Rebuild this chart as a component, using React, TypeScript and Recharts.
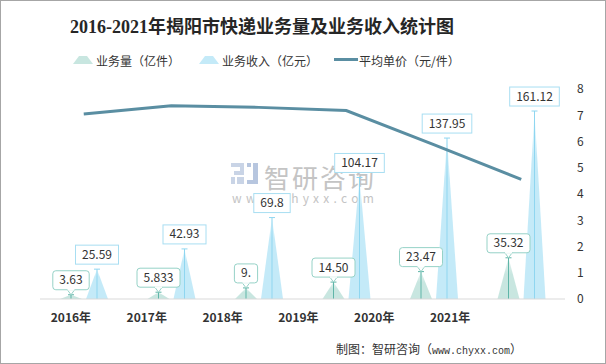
import React from 'react';
import { ComposedChart, Bar, Line, XAxis, YAxis, LabelList } from 'recharts';

const years = ['2016年', '2017年', '2018年', '2019年', '2020年', '2021年'];
const volume = [3.63, 5.833, 9.5, 14.5, 23.47, 35.32];
const volumeLabels = ['3.63', '5.833', '9.', '14.50', '23.47', '35.32'];
const revenue = [25.59, 42.93, 69.8, 104.17, 137.95, 161.12];
const revenueLabels = ['25.59', '42.93', '69.8', '104.17', '137.95', '161.12'];
const price = [7.05, 7.36, 7.3, 7.18, 5.88, 4.56];
const rightTicks = [0, 1, 2, 3, 4, 5, 6, 7, 8];

const data = years.map((y, i) => ({
  year: y,
  volume: volume[i],
  revenue: revenue[i],
  price: price[i],
  vLabel: volumeLabels[i],
  rLabel: revenueLabels[i],
}));

const FONT = '"Microsoft YaHei", "Noto Sans CJK SC", "Noto Sans", sans-serif';

const makeSpike = (fillId: string, lineColor: string) => (props: any) => {
  const { x, y, width, height } = props;
  if (height == null || height <= 0) return null;
  const cx = x + width / 2;
  const base = y + height;
  return (
    <g>
      <polygon points={`${x},${base} ${cx},${y} ${x + width},${base}`} fill={`url(#${fillId})`} />
      <line x1={cx} y1={y} x2={cx} y2={base} stroke={lineColor} strokeWidth={1} />
      <line x1={cx - 3} y1={y} x2={cx + 3} y2={y} stroke={lineColor} strokeWidth={1} />
    </g>
  );
};

const makeLabel = (labels: string[], border: string, rounded: boolean, pointer: boolean) => (props: any) => {
  const { x, y, width, index } = props;
  const txt = labels[index];
  const cx = x + width / 2;
  const w = txt.length * 6.6 + 10;
  const h = 19;
  const bottom = y - 5;
  return (
    <g>
      {pointer && (
        <polygon
          points={`${cx - 4},${bottom - 0.5} ${cx},${y} ${cx + 4},${bottom - 0.5}`}
          fill="#fff"
          stroke={border}
          strokeWidth={1}
        />
      )}
      <rect x={cx - w / 2} y={bottom - h} width={w} height={h} rx={rounded ? 3 : 0} fill="#fff" stroke={border} strokeWidth={1} />
      {pointer && <line x1={cx - 3.5} y1={bottom} x2={cx + 3.5} y2={bottom} stroke="#fff" strokeWidth={1.5} />}
      <text x={cx} y={bottom - h / 2 + 4} textAnchor="middle" fontSize={12} fill="#333" fontFamily={FONT}>
        {txt}
      </text>
    </g>
  );
};

export default function App() {
  return (
    <div
      style={{
        position: 'absolute',
        left: 0,
        top: 0,
        width: 606,
        height: 364,
        boxSizing: 'border-box',
        border: '1px solid #a6a6a6',
        background: '#fff',
        overflow: 'hidden',
      }}
    >
      <div
        style={{
          position: 'absolute',
          left: 0,
          width: 522,
          top: 11,
          textAlign: 'center',
          fontSize: 18,
          fontWeight: 'bold',
          color: '#262626',
          fontFamily: '"Liberation Serif", "Noto Sans CJK SC", serif',
          whiteSpace: 'nowrap',
        }}
      >
        2016-2021年揭阳市快递业务量及业务收入统计图
      </div>
      {/* legend */}
      <div style={{ position: 'absolute', top: 51, left: 0, fontFamily: FONT, fontSize: 12, color: '#333', whiteSpace: 'nowrap' }}>
        <svg style={{ position: 'absolute', left: 72, top: 4 }} width={20} height={8}>
          <polygon points="0,8 6,0 14,0 20,8" fill="#c8e6e0" />
        </svg>
        <span style={{ position: 'absolute', left: 95, top: 0 }}>业务量（亿件）</span>
        <svg style={{ position: 'absolute', left: 198, top: 4 }} width={20} height={8}>
          <polygon points="0,8 6,0 14,0 20,8" fill="#c4eaf8" />
        </svg>
        <span style={{ position: 'absolute', left: 221, top: 0 }}>业务收入（亿元）</span>
        <svg style={{ position: 'absolute', left: 333, top: 6 }} width={24} height={4}>
          <rect x={0} y={0} width={24} height={3} fill="#5a8ea2" />
        </svg>
        <span style={{ position: 'absolute', left: 358, top: 0 }}>平均单价（元/件）</span>
      </div>
      {/* watermark */}
      <svg style={{ position: 'absolute', left: 230, top: 162 }} width={28} height={21}>
        <rect x={0} y={0} width={13} height={4} fill="#c9d4e6" />
        <rect x={9} y={0} width={4} height={12} fill="#c9d4e6" />
        <rect x={3} y={8} width={10} height={4} fill="#c9d4e6" />
        <rect x={0} y={14} width={4} height={7} fill="#c9d4e6" />
        <rect x={6} y={14} width={7} height={7} fill="#c9d4e6" />
        <rect x={16} y={0} width={4} height={4} fill="#b7c6df" />
        <rect x={22} y={0} width={5} height={21} fill="#b7c6df" />
        <rect x={16} y={17} width={11} height={4} fill="#b7c6df" />
      </svg>
      <div style={{ position: 'absolute', left: 263, top: 157, fontSize: 26, color: '#c4c4c4', fontFamily: FONT, letterSpacing: 2, whiteSpace: 'nowrap' }}>
        智研咨询
      </div>
      <div style={{ position: 'absolute', left: 231, top: 188, fontSize: 12, color: '#c4c4c4', fontFamily: FONT, letterSpacing: 4.3, whiteSpace: 'nowrap' }}>
        www.chyxx.com
      </div>
      <div
        style={{
          position: 'absolute',
          left: 335,
          top: 339,
          fontSize: 12,
          color: '#333',
          fontFamily: '"Noto Sans CJK SC", sans-serif',
          whiteSpace: 'nowrap',
        }}
      >
        制图：智研咨询（
        <span style={{ fontFamily: '"Liberation Mono", monospace', fontSize: 10 }}>www.chyxx.com</span>）
      </div>
      <div style={{ position: 'absolute', left: -1, top: -1 }}>
        <ComposedChart
          width={606}
          height={364}
          data={data}
          margin={{ top: 89, right: 0, bottom: 35, left: 40 }}
          barSize={22}
          barGap={4}
        >
          <defs>
            <linearGradient id="revFill" x1="0" y1="0" x2="0" y2="1">
              <stop offset="0%" stopColor="#c4eaf8" stopOpacity={0.2} />
              <stop offset="25%" stopColor="#c4eaf8" stopOpacity={1} />
              <stop offset="100%" stopColor="#c4eaf8" stopOpacity={1} />
            </linearGradient>
            <linearGradient id="volFill" x1="0" y1="0" x2="0" y2="1">
              <stop offset="0%" stopColor="#c8e6e0" stopOpacity={0.4} />
              <stop offset="40%" stopColor="#c8e6e0" stopOpacity={1} />
              <stop offset="100%" stopColor="#c8e6e0" stopOpacity={1} />
            </linearGradient>
          </defs>
          <XAxis xAxisId="main" dataKey="year" hide />
          <XAxis
            xAxisId="lab"
            dataKey="year"
            height={30}
            padding={{ left: -7, right: 77 }}
            axisLine={{ stroke: '#d9d9d9', strokeWidth: 1 }}
            tickLine={false}
            tick={{ fontSize: 12, fontWeight: 'bold', fill: '#333', fontFamily: FONT }}
            tickMargin={8}
            interval={0}
          />
          <YAxis yAxisId="left" hide domain={[0, 180]} />
          <YAxis
            yAxisId="right"
            orientation="right"
            width={41}
            domain={[0, 8]}
            ticks={rightTicks}
            axisLine={false}
            tickLine={false}
            tick={{ fontSize: 12, fill: '#333', fontFamily: FONT }}
            tickMargin={6}
          />
          <Bar
            xAxisId="main"
            yAxisId="left"
            dataKey="volume"
            isAnimationActive={false}
            shape={makeSpike('volFill', '#5fb5a8')}
          >
            <LabelList dataKey="vLabel" content={makeLabel(volumeLabels, '#96d2c7', true, true)} />
          </Bar>
          <Bar
            xAxisId="main"
            yAxisId="left"
            dataKey="revenue"
            isAnimationActive={false}
            shape={makeSpike('revFill', '#8fd6f0')}
          >
            <LabelList dataKey="rLabel" content={makeLabel(revenueLabels, '#a8def2', false, false)} />
          </Bar>
          <Line
            xAxisId="main"
            yAxisId="right"
            dataKey="price"
            stroke="#5a8ea2"
            strokeWidth={3}
            dot={false}
            isAnimationActive={false}
          />
        </ComposedChart>
      </div>
    </div>
  );
}
